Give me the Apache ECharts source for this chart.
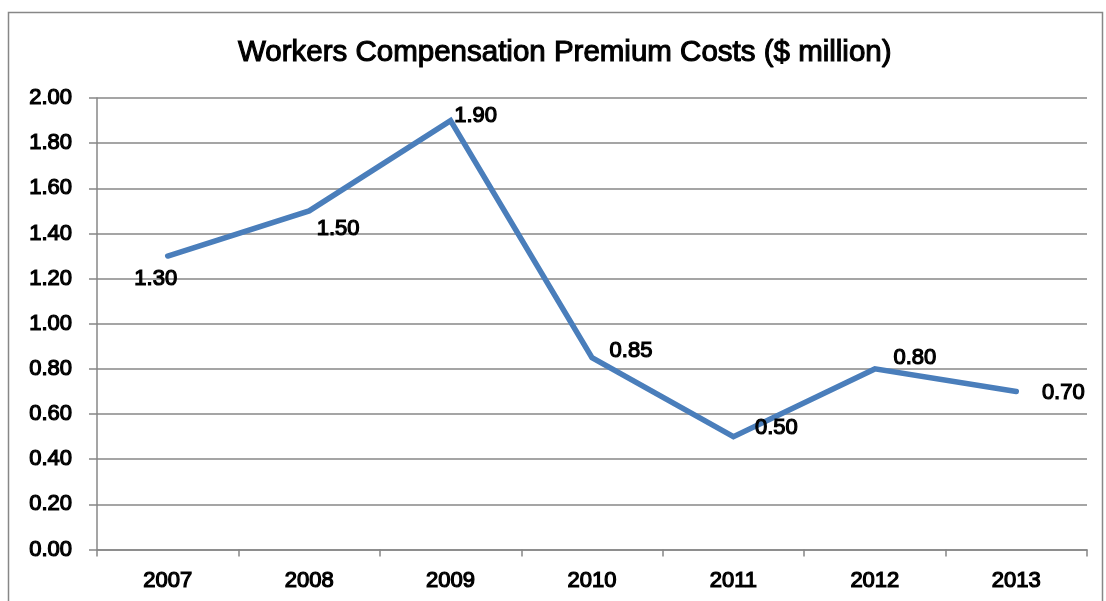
<!DOCTYPE html>
<html>
<head>
<meta charset="utf-8">
<style>
  html, body { margin: 0; padding: 0; background: #fff; }
  #chart { width: 1106px; height: 601px; }
</style>
<script src="https://cdn.jsdelivr.net/npm/echarts@6/dist/echarts.min.js"></script>
</head>
<body>
<div id="chart"></div>
<script>
// Premium costs by year, in $ million
const years = ['2007', '2008', '2009', '2010', '2011', '2012', '2013'];
const premiumCosts = [1.30, 1.50, 1.90, 0.85, 0.50, 0.80, 0.70];
const yTicks = { min: 0, max: 2, interval: 0.2 };

// where each value label sits relative to its point (dx, dy from point centre)
const labelOffsets = [[-12, 23], [29, 18], [25, -5], [39, -7], [43, -9], [40, -11], [47, 1]];

const textFont = 'Liberation Sans, Arial, sans-serif';
const gridGray = '#878787';

// slightly heavier text strokes
const textInk = { color: '#000', textBorderColor: '#000', textBorderWidth: 1.2 };

const chart = echarts.init(document.getElementById('chart'), null, { renderer: 'canvas' });

chart.setOption({
  animation: false,
  backgroundColor: '#fff',
  title: {
    text: 'Workers Compensation Premium Costs ($ million)',
    left: 233,
    top: 33,
    textStyle: Object.assign({
      fontFamily: textFont,
      fontSize: 29.5,
      fontWeight: 'normal'
    }, textInk, { textBorderWidth: 1.1 })
  },
  graphic: [{
    type: 'rect',
    shape: { x: 8.5, y: 12.5, width: 1094, height: 600 },
    style: { fill: 'none', stroke: gridGray, lineWidth: 1.5 },
    silent: true
  }],
  grid: { left: 97, right: 19, top: 98, bottom: 51.5 },
  xAxis: {
    type: 'category',
    data: years,
    boundaryGap: true,
    axisLine: { lineStyle: { color: gridGray, width: 1.5 } },
    axisTick: { show: true, length: 7, alignWithLabel: false, lineStyle: { color: gridGray, width: 1.5 } },
    axisLabel: Object.assign({
      margin: 20,
      fontFamily: textFont,
      fontSize: 22
    }, textInk),
    splitLine: { show: false }
  },
  yAxis: {
    type: 'value',
    min: yTicks.min,
    max: yTicks.max,
    interval: yTicks.interval,
    axisLine: { show: true, lineStyle: { color: gridGray, width: 1.5 } },
    axisTick: { show: true, length: 8, lineStyle: { color: gridGray, width: 1.5 } },
    axisLabel: Object.assign({
      margin: 25,
      fontFamily: textFont,
      fontSize: 22,
      formatter: v => v.toFixed(2)
    }, textInk),
    splitLine: { show: true, lineStyle: { color: gridGray, width: 1.5 } }
  },
  series: [{
    type: 'line',
    data: premiumCosts.map((v, i) => ({
      value: v,
      label: { offset: labelOffsets[i] }
    })),
    symbol: 'circle',
    symbolSize: 1,
    showSymbol: true,
    itemStyle: { color: 'rgba(0,0,0,0)' },
    lineStyle: { color: '#4a7ebb', width: 5.5, cap: 'round', join: 'miter' },
    label: Object.assign({
      show: true,
      position: 'inside',
      formatter: p => p.value.toFixed(2),
      fontFamily: textFont,
      fontSize: 22
    }, textInk)
  }]
});
</script>
</body>
</html>
